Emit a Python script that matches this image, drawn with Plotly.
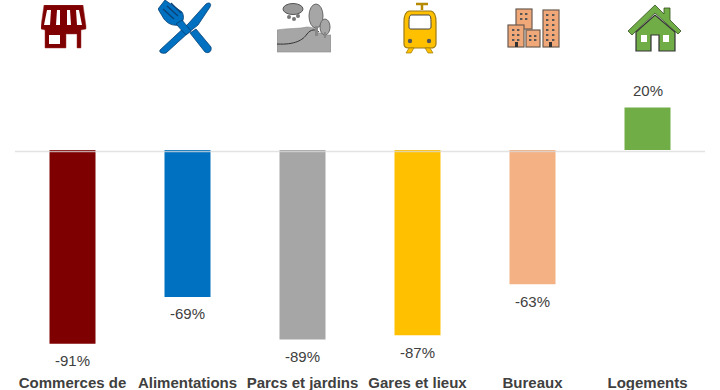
import base64
import plotly.graph_objects as go

categories = ["Commerces de", "Alimentations", "Parcs et jardins", "Gares et lieux", "Bureaux", "Logements"]
values = [-91, -69, -89, -87, -63, 20]
colors = ["#7F0000", "#0070C0", "#A6A6A6", "#FFC000", "#F4B183", "#70AD47"]

W, H = 720, 390
ML, MR, MB = 15, 15, 18
PX_PER_UNIT = 2.13
ZERO_PX = 150
Y_TOP = ZERO_PX / PX_PER_UNIT
Y_BOTTOM = -(H - MB - ZERO_PX) / PX_PER_UNIT


def svg_uri(w, h, body):
    svg = (f'<svg xmlns="http://www.w3.org/2000/svg" width="{w}" height="{h}" viewBox="0 0 {w} {h}">'
           f'<defs><filter id="b" x="-5%" y="-5%" width="110%" height="110%"><feGaussianBlur stdDeviation="0.35"/></filter></defs>'
           f'<g filter="url(#b)">{body}</g></svg>')
    return "data:image/svg+xml;base64," + base64.b64encode(svg.encode()).decode()


shop = """
<path d="M3 0H42L45 21V24L40 25V43H36V29H25V43H4V25L0 24V21Z" fill="#7F0000" stroke="#a04040" stroke-width=".5"/>
<rect x="8" y="30" width="11" height="9" fill="#fff"/>
<path d="M6 5 H10 L9 20 H3Z M16 5 H19 L19 20 H15Z M26 5 H29 L30 20 H26Z M35 5 H38 L41 20 H36Z" fill="#fff"/>
"""

cutlery = """
<g stroke="#0a3f73" stroke-width=".8" fill="#0070C0">
<path d="M2 50 L30 24 L48 4 C51 2 54 3 52 7 L40 25 L30 33 L8 53 C3 54 1 52 2 50Z"/>
<path d="M32 33 L38 29 L53 47 C54 51 51 54 47 52Z"/>
<path d="M0 9 L7 0 L24 12 C27 17 25 23 21 25 C15 26 10 24 6 19Z"/>
<path d="M18 24 L24 20 L33 31 L28 35Z"/>
</g>
<path d="M5 9 L16 19 M9 6 L20 16 M13 3 L23 13" stroke="#0a3f73" stroke-width="1.2"/>
"""

park = """
<path d="M0 28 C12 26 22 27 30 25 C38 25 42 29 40 31 L46 31 V33 H54 V50 H0Z" fill="#A6A6A6" stroke="#8a8a8a" stroke-width=".6"/>
<path d="M0 42 C18 43 26 38 30 32 C34 27 38 27 42 30" fill="none" stroke="#333" stroke-width="1"/>
<ellipse cx="39" cy="14" rx="7" ry="12" fill="#A6A6A6" stroke="#666"/>
<rect x="38" y="24" width="3" height="10" fill="#888"/>
<ellipse cx="48" cy="25" rx="5" ry="8" fill="#A6A6A6" stroke="#666"/>
<rect x="47" y="30" width="2" height="6" fill="#888"/>
<ellipse cx="16" cy="7" rx="10" ry="5.5" fill="#999" stroke="#555"/>
<circle cx="12" cy="15" r="2" fill="#777"/><circle cx="17" cy="17" r="2" fill="#777"/><circle cx="21" cy="14" r="2" fill="#777"/>
"""

tram = """
<path d="M13 2H25M19 2V8" stroke="#B58900" stroke-width="2.5" fill="none"/>
<path d="M6 9H28C32 10 33 14 33 20V42C33 45 30 46 28 46H6C3 46 1 45 1 42V20C1 14 2 10 6 9Z" fill="#FFC000" stroke="#9c7a10" stroke-width="1.2"/>
<path d="M8 13H26C28 14 28 16 28 25C28 27 26 27 25 27H9C7 27 6 27 6 25C6 16 6 14 8 13Z" fill="#fff" stroke="#444" stroke-width="1"/>
<circle cx="7" cy="39" r="2.2" fill="#555"/><circle cx="26" cy="39" r="2.2" fill="#555"/>
<path d="M6 46 L3 51 H8 L11 46Z M22 46 L25 51 H30 L27 46Z" fill="#FFC000" stroke="#9c7a10" stroke-width=".7"/>
"""


def windows(x, y, nx, ny, dx, dy):
    return "".join(f'<rect x="{x+i*dx}" y="{y+j*dy}" width="2.4" height="2" fill="#555"/>'
                   for i in range(nx) for j in range(ny))


buildings = f"""
<g fill="#F0A878" stroke="#6b5a50" stroke-width="1.2">
<rect x="9" y="1" width="16" height="20"/>
<rect x="36" y="2" width="16" height="37"/>
<rect x="1" y="17" width="16" height="22"/>
<rect x="19" y="22" width="14" height="17"/>
</g>
{windows(13, 5, 2, 2, 5, 5)}
{windows(39, 6, 2, 6, 6, 5)}
{windows(5, 21, 2, 3, 5, 5)}
{windows(22, 27, 2, 2, 5, 4)}
<rect x="8" y="34" width="3" height="5" fill="#333"/><rect x="42" y="34" width="3" height="5" fill="#333"/>
"""

house = """
<path d="M0 26 L27 0 L36 9 V3 H42 V15 L53 26 L50 29 L27 8 L4 30Z" fill="#70AD47" stroke="#33511f" stroke-width=".8"/>
<path d="M8 27 L27 10 L47 27 V46 H31 V30 H23 V46 H8Z" fill="#70AD47" stroke="#333" stroke-width="1.2"/>
<rect x="13" y="30" width="6" height="7" fill="#fff"/>
<rect x="35" y="30" width="6" height="7" fill="#fff"/>
"""

icons = [
    (41, 5, 46, 44, shop),
    (158, 0, 54, 54, cutlery),
    (277, 2, 54, 52, park),
    (403, 2, 34, 52, tram),
    (507, 8, 54, 41, buildings),
    (628, 5, 54, 47, house),
]

fig = go.Figure(
    go.Bar(x=categories, y=values, marker=dict(color=colors, line_width=0), width=0.4)
)

for cat, val in zip(categories, values):
    fig.add_annotation(
        x=cat, y=val, xref="x", yref="y", text=f"{val}%", showarrow=False,
        yshift=17 if val > 0 else -17,
        font=dict(family="Liberation Sans", size=15, color="#404040"),
    )

fig.update_layout(
    width=W, height=H, margin=dict(l=ML, r=MR, t=0, b=MB, pad=0),
    paper_bgcolor="white", plot_bgcolor="white", showlegend=False,
    images=[
        dict(source=svg_uri(w, h, body), xref="paper", yref="paper", xanchor="left", yanchor="top",
             x=(px - ML) / (W - ML - MR), y=1 - py / (H - MB), sizex=w / (W - ML - MR), sizey=h / (H - MB),
             sizing="stretch", layer="above")
        for px, py, w, h, body in icons
    ],
    shapes=[dict(type="line", xref="paper", x0=0, x1=1, yref="y", y0=-0.7, y1=-0.7,
                 line=dict(color="rgba(217,217,217,0.75)", width=1.5), layer="above")],
    xaxis=dict(showgrid=False, showline=False, zeroline=False, ticks="", automargin=False,
               ticklabelstandoff=0,
               tickfont=dict(family="Liberation Sans", size=15, color="#404040", weight="bold")),
    yaxis=dict(range=[Y_BOTTOM, Y_TOP], visible=False, showgrid=False, zeroline=False, fixedrange=True),
)

fig.write_html("out.html", config=dict(displayModeBar=False),
               post_script="document.body.style.margin='0';document.documentElement.style.overflow='hidden';")
